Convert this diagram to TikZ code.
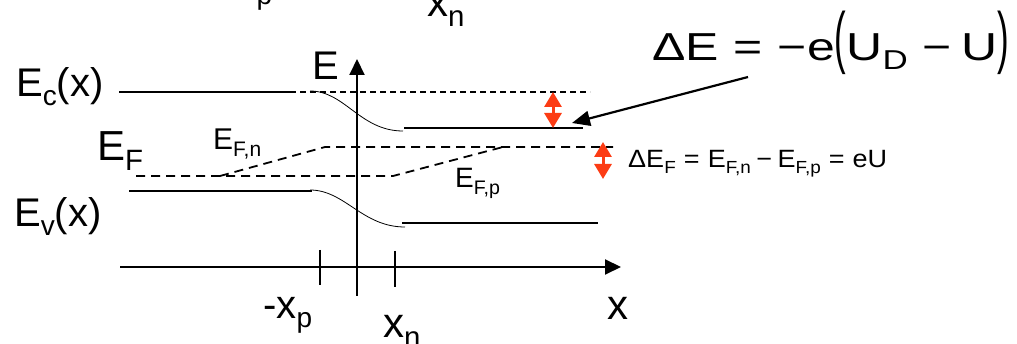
\documentclass[tikz,border=0pt]{standalone}
\usepackage{fontspec}
\setmainfont{Liberation Sans}
\usetikzlibrary{arrows.meta}
\definecolor{arrred}{RGB}{252,60,20}
\newcommand\lsub[1]{\raisebox{-.22em}{\scalebox{.7}{#1}}}
\newcommand\bigparen[1]{\scalebox{.7}[1.75]{#1}}
\begin{document}
\begin{tikzpicture}[x=1pt,y=-1pt,
  lbl/.style={inner sep=0pt,anchor=base west,font=\fontsize{40}{42}\selectfont},
  band/.style={line width=1.7pt},
  thinc/.style={line width=0.8pt},
  dsh/.style={dash pattern=on 6pt off 4pt,line width=1.2pt},
  fdsh/.style={dash pattern=on 9pt off 6pt,line width=1.8pt},
  axisarrow/.style={line width=2pt,-{Triangle[length=16pt,width=15pt]}},
  tickmark/.style={line width=1.4pt},
  dbl/.style={arrred,line width=3pt,{Triangle[length=15pt,width=17pt]}-{Triangle[length=15pt,width=17pt]}},
  ptr/.style={line width=2.2pt,-{Triangle[length=18pt,width=15pt]}}
]
\useasboundingbox (0,0) rectangle (1017,344);
% coordinates
\coordinate (ecL) at (119,92); \coordinate (ecM) at (290,92); \coordinate (ecR) at (590,92);
\coordinate (ecC1) at (310,91); \coordinate (ecC2) at (403,131);
\coordinate (ecnL) at (404,128); \coordinate (ecnR) at (583,128);
\coordinate (evL) at (129,191); \coordinate (evM) at (312,191);
\coordinate (evC1) at (310,190); \coordinate (evC2) at (405,227);
\coordinate (evnL) at (402,223); \coordinate (evnR) at (598,223);
\coordinate (efA) at (136,176); \coordinate (efB) at (393,176); \coordinate (efC) at (503,147);
\coordinate (efD) at (220,176); \coordinate (efE) at (325,147); \coordinate (efF) at (613,147);
\coordinate (xa0) at (120,267); \coordinate (xa1) at (621,267);
\coordinate (ea0) at (357,296); \coordinate (ea1) at (357,59);
\coordinate (t1a) at (320,250); \coordinate (t1b) at (320,285);
\coordinate (t2a) at (395,251); \coordinate (t2b) at (395,287);
\coordinate (r1a) at (553,92); \coordinate (r1b) at (553,128);
\coordinate (r2a) at (603,142); \coordinate (r2b) at (603,179);
\coordinate (pa) at (748,77); \coordinate (pb) at (572,123);
% bands
\draw[band] (ecL) -- (ecM);
\draw[dsh] (ecM) -- (ecR);
\draw[thinc] (ecC1) .. controls (345,91) and (360,131) .. (ecC2);
\draw[band] (ecnL) -- (ecnR);
\draw[band] (evL) -- (evM);
\draw[thinc] (evC1) .. controls (345,190) and (362,227) .. (evC2);
\draw[band] (evnL) -- (evnR);
% Fermi levels
\draw[fdsh] (efA) -- (efB) -- (efC);
\draw[fdsh] (efD) -- (efE) -- (efF);
% axes
\draw[axisarrow] (xa0) -- (xa1);
\draw[axisarrow] (ea0) -- (ea1);
\draw[tickmark] (t1a) -- (t1b);
\draw[tickmark] (t2a) -- (t2b);
% red arrows
\draw[dbl] (r1a) -- (r1b);
\draw[dbl] (r2a) -- (r2b);
% pointer
\draw[ptr] (pa) -- (pb);
% labels
\node[lbl] (ec) at (16,97) {E\lsub{c}(x)};
\node[lbl,font=\fontsize{42}{44}\selectfont] (ef) at (97,161) {E\lsub{F}};
\node[lbl] (ev) at (14,227) {E\lsub{v}(x)};
\node[lbl] (eax) at (312,80) {E};
\node[lbl,font=\fontsize{30}{32}\selectfont] (efn) at (213,150) {E\lsub{F,n}};
\node[lbl,font=\fontsize{28}{30}\selectfont] (efp) at (455,188) {E\lsub{F,p}};
\node[lbl] (xp) at (263,319) {-x\lsub{p}};
\node[lbl,font=\fontsize{42}{44}\selectfont] (xn) at (383,338) {x\lsub{n}};
\node[lbl,font=\fontsize{42}{44}\selectfont] (xl) at (607,320) {x};
\node[lbl] (xpt) at (223,-4) {-x\lsub{p}};
\node[lbl,font=\fontsize{42}{44}\selectfont] (xnt) at (427,17) {x\lsub{n}};
\node[lbl,font=\fontsize{39}{41}\selectfont] (deq) at (652,61)
  {\scalebox{1.28}[1]{ΔE\hspace{.3em}=\hspace{.3em}−e\bigparen{(}U\lsub{D}\hspace{.3em}−\hspace{.2em}U\bigparen{)}}};
\node[lbl,font=\fontsize{25}{27}\selectfont] (dfeq) at (628,168)
  {\scalebox{1.08}[1]{ΔE\lsub{F}\hspace{.3em}=\hspace{.3em}E\lsub{F,n}\hspace{.2em}−\hspace{.2em}E\lsub{F,p}\hspace{.3em}=\hspace{.3em}eU}};
\end{tikzpicture}
\end{document}
